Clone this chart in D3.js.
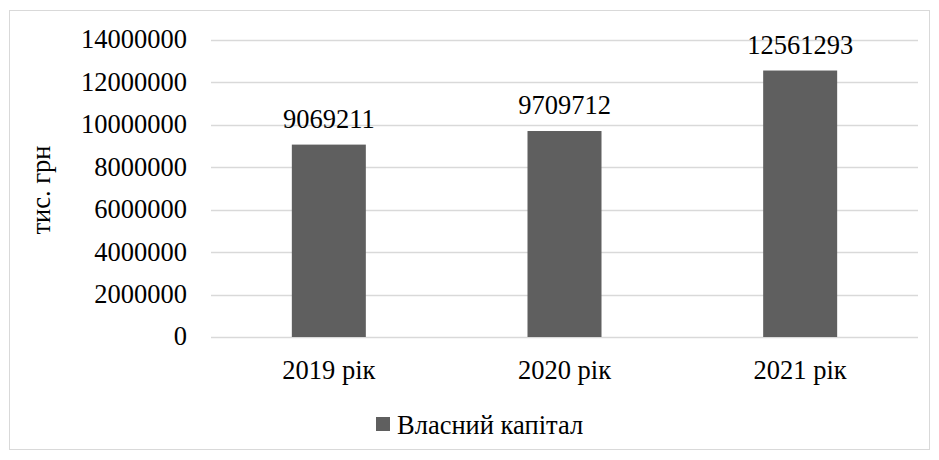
<!DOCTYPE html>
<html>
<head>
<meta charset="utf-8">
<script src="https://cdn.jsdelivr.net/npm/d3@7"></script>
<style>
  body { margin: 0; background: #fff; }
</style>
</head>
<body>
<div class="chart"></div>
<script>
const years = ["2019 рік", "2020 рік", "2021 рік"];
const equity = [9069211, 9709712, 12561293];
const yTicks = [0, 2000000, 4000000, 6000000, 8000000, 10000000, 12000000, 14000000];
const seriesName = "Власний капітал";
const yTitle = "тис. грн";

const width = 939, height = 460;
const plot = { left: 211, right: 918, top: 40, bottom: 337 };
const font = "'Liberation Serif', 'Times New Roman', Times, serif";

const svg = d3.select(".chart")
  .append("svg")
  .attr("width", width)
  .attr("height", height)
  .attr("font-family", font)
  .attr("font-size", 26.5)
  .attr("fill", "#000");

// outer frame
svg.append("rect")
  .attr("x", 9.5).attr("y", 10.5)
  .attr("width", 920).attr("height", 439)
  .attr("fill", "none")
  .attr("stroke", "#d9d9d9")
  .attr("stroke-width", 1);

const x = d3.scaleBand()
  .domain(years)
  .range([plot.left, plot.right]);

const y = d3.scaleLinear()
  .domain([0, 14000000])
  .range([plot.bottom, plot.top]);

const barW = 74;

// gridlines
svg.append("g")
  .selectAll("line")
  .data(yTicks)
  .enter()
  .append("line")
  .attr("x1", plot.left)
  .attr("x2", plot.right)
  .attr("y1", d => Math.round(y(d)) + 0.5)
  .attr("y2", d => Math.round(y(d)) + 0.5)
  .attr("stroke", "#d9d9d9")
  .attr("stroke-width", 1.3);

// y tick labels
svg.append("g")
  .selectAll("text")
  .data(yTicks)
  .enter()
  .append("text")
  .attr("x", 187)
  .attr("y", d => y(d))
  .attr("dy", "0.32em")
  .attr("text-anchor", "end")
  .text(d => d);

// bars
svg.append("g")
  .selectAll("rect")
  .data(equity)
  .enter()
  .append("rect")
  .attr("x", (d, i) => x(years[i]) + x.bandwidth() / 2 - barW / 2)
  .attr("y", d => y(d))
  .attr("width", barW)
  .attr("height", d => y(0) - y(d))
  .attr("fill", "#5f5f5f");

// value labels
svg.append("g")
  .selectAll("text")
  .data(equity)
  .enter()
  .append("text")
  .attr("x", (d, i) => x(years[i]) + x.bandwidth() / 2)
  .attr("y", d => y(d) - 17)
  .attr("text-anchor", "middle")
  .text(d => d);

// x labels
svg.append("g")
  .selectAll("text")
  .data(years)
  .enter()
  .append("text")
  .attr("x", d => x(d) + x.bandwidth() / 2)
  .attr("y", 379)
  .attr("text-anchor", "middle")
  .text(d => d);

// y title
svg.append("text")
  .attr("transform", "translate(50,190) rotate(-90)")
  .attr("text-anchor", "middle")
  .text(yTitle);

// legend
const legend = svg.append("g");
legend.append("rect")
  .attr("x", 376).attr("y", 417)
  .attr("width", 14).attr("height", 14)
  .attr("fill", "#5f5f5f");
legend.append("text")
  .attr("x", 397).attr("y", 434)
  .text(seriesName);
</script>
</body>
</html>
